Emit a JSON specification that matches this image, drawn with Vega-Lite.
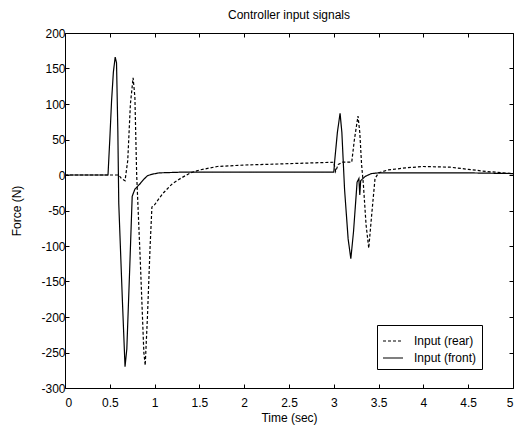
{
  "$schema": "https://vega.github.io/schema/vega-lite/v6.json",
  "width": 448,
  "height": 355,
  "autosize": "none",
  "padding": {"left": 65, "top": 33, "right": 3, "bottom": 39},
  "background": "white",
  "config": {
    "view": {"stroke": "black", "strokeWidth": 1},
    "font": "Liberation Sans",
    "axis": {
      "grid": false,
      "domain": false,
      "tickColor": "black",
      "tickSize": -4,
      "labelColor": "black",
      "titleColor": "black",
      "labelFont": "Liberation Sans",
      "titleFont": "Liberation Sans",
      "labelFontSize": 12,
      "titleFontSize": 12,
      "titleFontWeight": "normal"
    }
  },
  "title": {"text": "Controller input signals", "fontSize": 12, "fontWeight": "normal", "font": "Liberation Sans", "color": "black", "offset": 5},
  "data": {"values": [
    {"t": 0, "f": 0, "s": "Input (front)"},
    {"t": 0.48, "f": 0, "s": "Input (front)"},
    {"t": 0.5, "f": 50, "s": "Input (front)"},
    {"t": 0.52, "f": 105, "s": "Input (front)"},
    {"t": 0.54, "f": 145, "s": "Input (front)"},
    {"t": 0.56, "f": 166, "s": "Input (front)"},
    {"t": 0.575, "f": 158, "s": "Input (front)"},
    {"t": 0.59, "f": 60, "s": "Input (front)"},
    {"t": 0.6, "f": -40, "s": "Input (front)"},
    {"t": 0.64, "f": -175, "s": "Input (front)"},
    {"t": 0.67, "f": -270, "s": "Input (front)"},
    {"t": 0.69, "f": -245, "s": "Input (front)"},
    {"t": 0.72, "f": -140, "s": "Input (front)"},
    {"t": 0.75, "f": -30, "s": "Input (front)"},
    {"t": 0.78, "f": -20, "s": "Input (front)"},
    {"t": 0.84, "f": -12, "s": "Input (front)"},
    {"t": 0.88, "f": -6, "s": "Input (front)"},
    {"t": 0.92, "f": -1, "s": "Input (front)"},
    {"t": 0.97, "f": 1, "s": "Input (front)"},
    {"t": 1.05, "f": 3, "s": "Input (front)"},
    {"t": 1.3, "f": 4, "s": "Input (front)"},
    {"t": 2.0, "f": 4, "s": "Input (front)"},
    {"t": 3.0, "f": 4, "s": "Input (front)"},
    {"t": 3.01, "f": 20, "s": "Input (front)"},
    {"t": 3.04, "f": 60, "s": "Input (front)"},
    {"t": 3.07, "f": 87, "s": "Input (front)"},
    {"t": 3.09, "f": 60, "s": "Input (front)"},
    {"t": 3.12, "f": -20, "s": "Input (front)"},
    {"t": 3.16, "f": -90, "s": "Input (front)"},
    {"t": 3.19, "f": -118, "s": "Input (front)"},
    {"t": 3.22, "f": -80, "s": "Input (front)"},
    {"t": 3.26, "f": -10, "s": "Input (front)"},
    {"t": 3.28, "f": -5, "s": "Input (front)"},
    {"t": 3.29, "f": -28, "s": "Input (front)"},
    {"t": 3.3, "f": -8, "s": "Input (front)"},
    {"t": 3.35, "f": -2, "s": "Input (front)"},
    {"t": 3.42, "f": 2, "s": "Input (front)"},
    {"t": 3.5, "f": 3, "s": "Input (front)"},
    {"t": 4.0, "f": 3, "s": "Input (front)"},
    {"t": 4.5, "f": 3, "s": "Input (front)"},
    {"t": 5.0, "f": 2, "s": "Input (front)"},
    {"t": 0, "f": 0, "s": "Input (rear)"},
    {"t": 0.6, "f": 0, "s": "Input (rear)"},
    {"t": 0.63, "f": -5, "s": "Input (rear)"},
    {"t": 0.67, "f": -8, "s": "Input (rear)"},
    {"t": 0.7, "f": 20, "s": "Input (rear)"},
    {"t": 0.73, "f": 100, "s": "Input (rear)"},
    {"t": 0.76, "f": 137, "s": "Input (rear)"},
    {"t": 0.78, "f": 110, "s": "Input (rear)"},
    {"t": 0.8, "f": 0, "s": "Input (rear)"},
    {"t": 0.84, "f": -120, "s": "Input (rear)"},
    {"t": 0.88, "f": -250, "s": "Input (rear)"},
    {"t": 0.895, "f": -268, "s": "Input (rear)"},
    {"t": 0.92, "f": -200, "s": "Input (rear)"},
    {"t": 0.95, "f": -100, "s": "Input (rear)"},
    {"t": 0.97, "f": -45, "s": "Input (rear)"},
    {"t": 1.0, "f": -42, "s": "Input (rear)"},
    {"t": 1.05, "f": -33, "s": "Input (rear)"},
    {"t": 1.1, "f": -25, "s": "Input (rear)"},
    {"t": 1.2, "f": -12, "s": "Input (rear)"},
    {"t": 1.3, "f": -4, "s": "Input (rear)"},
    {"t": 1.4, "f": 3, "s": "Input (rear)"},
    {"t": 1.5, "f": 7, "s": "Input (rear)"},
    {"t": 1.7, "f": 12, "s": "Input (rear)"},
    {"t": 2.0, "f": 14, "s": "Input (rear)"},
    {"t": 2.5, "f": 16, "s": "Input (rear)"},
    {"t": 3.0, "f": 18, "s": "Input (rear)"},
    {"t": 3.02, "f": 5, "s": "Input (rear)"},
    {"t": 3.05, "f": 15, "s": "Input (rear)"},
    {"t": 3.1, "f": 18, "s": "Input (rear)"},
    {"t": 3.2, "f": 18, "s": "Input (rear)"},
    {"t": 3.23, "f": 50, "s": "Input (rear)"},
    {"t": 3.27, "f": 83, "s": "Input (rear)"},
    {"t": 3.29, "f": 60, "s": "Input (rear)"},
    {"t": 3.31, "f": 15, "s": "Input (rear)"},
    {"t": 3.33, "f": -13, "s": "Input (rear)"},
    {"t": 3.36, "f": -70, "s": "Input (rear)"},
    {"t": 3.39, "f": -103, "s": "Input (rear)"},
    {"t": 3.42, "f": -60, "s": "Input (rear)"},
    {"t": 3.46, "f": -5, "s": "Input (rear)"},
    {"t": 3.5, "f": 3, "s": "Input (rear)"},
    {"t": 3.6, "f": 7, "s": "Input (rear)"},
    {"t": 3.8, "f": 10, "s": "Input (rear)"},
    {"t": 4.0, "f": 12, "s": "Input (rear)"},
    {"t": 4.3, "f": 11, "s": "Input (rear)"},
    {"t": 4.5, "f": 8, "s": "Input (rear)"},
    {"t": 4.7, "f": 5, "s": "Input (rear)"},
    {"t": 5.0, "f": 2, "s": "Input (rear)"}
  ]},
  "layer": [
    {
      "mark": {"type": "line", "color": "black", "strokeWidth": 1.2},
      "encoding": {
        "x": {"field": "t", "type": "quantitative", "scale": {"domain": [0, 5], "nice": false},
          "axis": {"orient": "bottom", "values": [0, 0.5, 1, 1.5, 2, 2.5, 3, 3.5, 4, 4.5, 5], "format": "~g", "title": "Time (sec)", "labelPadding": 13, "titlePadding": 4}},
        "y": {"field": "f", "type": "quantitative", "scale": {"domain": [-300, 200], "nice": false},
          "axis": {"orient": "left", "values": [-300, -250, -200, -150, -100, -50, 0, 50, 100, 150, 200], "labelExpr": "'' + datum.value", "title": "Force (N)", "labelPadding": 4, "titleX": -42}},
        "strokeDash": {"field": "s", "type": "nominal",
          "scale": {"domain": ["Input (rear)", "Input (front)"], "range": [[3, 2], [1, 0]]},
          "legend": {"title": null, "orient": "none", "legendX": 312, "legendY": 292, "strokeColor": "black", "fillColor": "white", "padding": 5, "symbolSize": 400, "symbolStrokeColor": "black", "symbolStrokeWidth": 1.2, "labelFontSize": 12, "labelColor": "black", "labelOffset": 10, "rowPadding": -7, "labelFont": "Liberation Sans"}}
      }
    },
    {
      "mark": {"type": "line", "opacity": 0},
      "encoding": {
        "x": {"field": "t", "type": "quantitative", "scale": {"domain": [0, 5], "nice": false},
          "axis": {"orient": "top", "values": [0, 0.5, 1, 1.5, 2, 2.5, 3, 3.5, 4, 4.5, 5], "labels": false, "title": null}},
        "y": {"field": "f", "type": "quantitative", "scale": {"domain": [-300, 200], "nice": false},
          "axis": {"orient": "right", "values": [-300, -250, -200, -150, -100, -50, 0, 50, 100, 150, 200], "labels": false, "title": null}},
        "detail": {"field": "s", "type": "nominal"}
      }
    }
  ],
  "resolve": {"axis": {"x": "independent", "y": "independent"}}
}
